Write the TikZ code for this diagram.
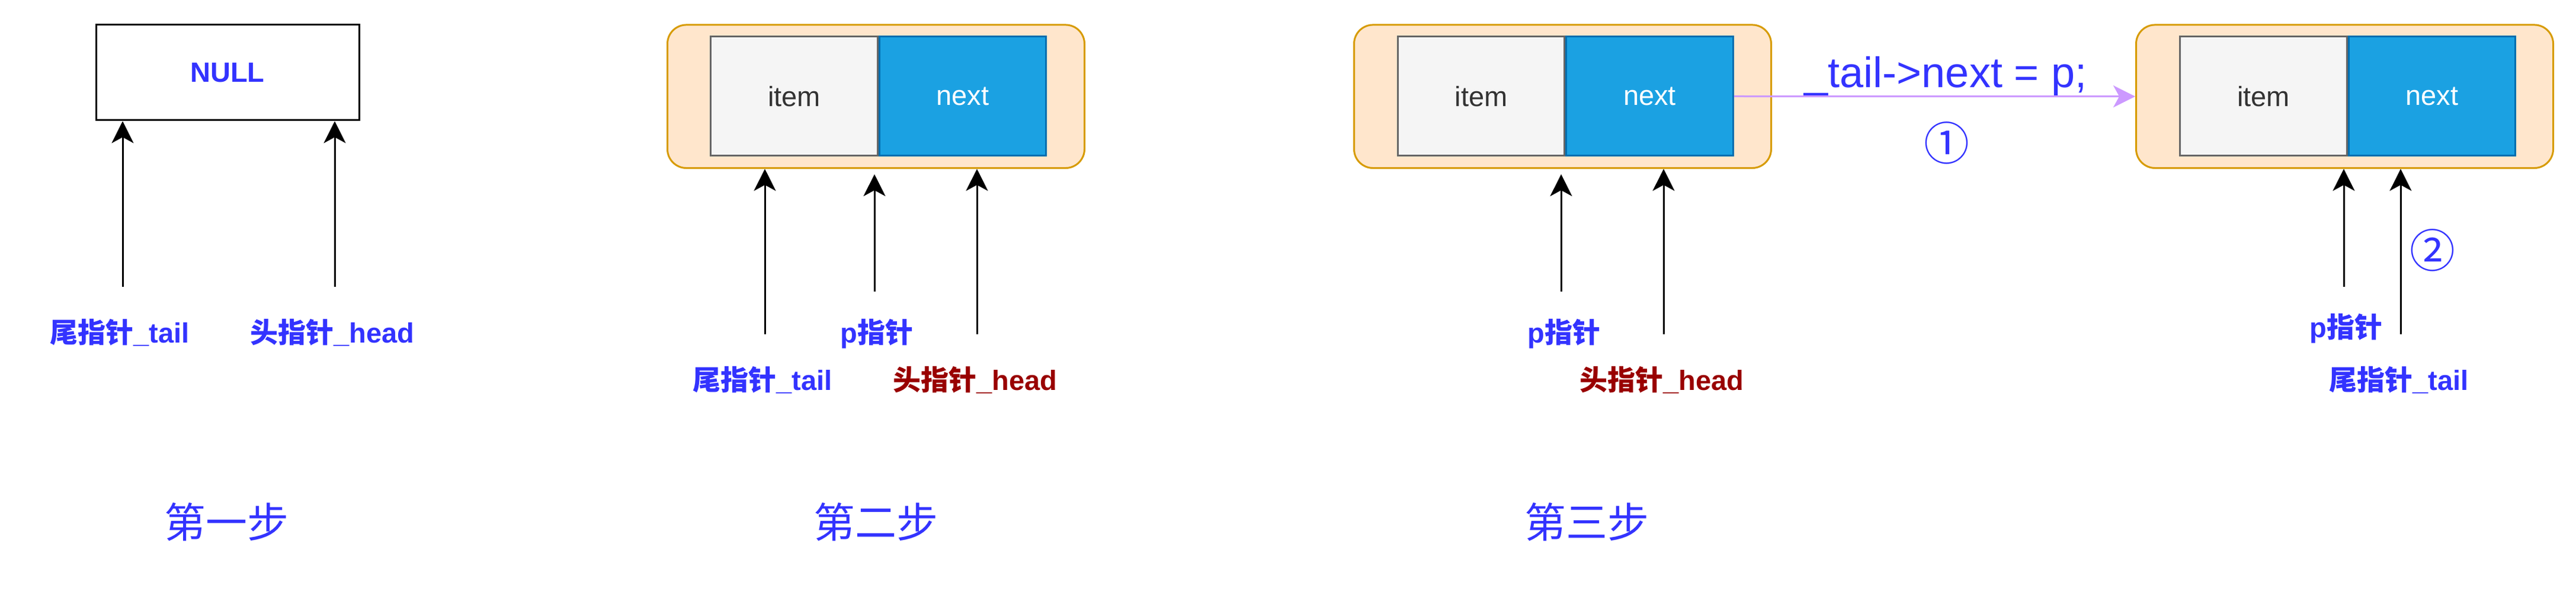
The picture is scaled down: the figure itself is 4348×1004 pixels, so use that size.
\documentclass[tikz,border=0pt]{standalone}
\usepackage{fontspec}
\setmainfont{Liberation Sans}
\newfontfamily\cjk{Noto Sans CJK SC}
\usetikzlibrary{arrows.meta,positioning}
\definecolor{ptrblue}{HTML}{3333FF}
\definecolor{headred}{HTML}{990000}
\definecolor{linkpurple}{HTML}{CC99FF}
\definecolor{wrapfill}{HTML}{FFE6CC}
\definecolor{wrapdraw}{HTML}{D79B00}
\definecolor{itemfill}{HTML}{F5F5F5}
\definecolor{itemdraw}{HTML}{666666}
\definecolor{itemtext}{HTML}{333333}
\definecolor{nextfill}{HTML}{1BA1E2}
\definecolor{nextdraw}{HTML}{006EAF}
\newcommand{\zh}[1]{{\cjk #1}}
\tikzset{
  wrapbox/.style={draw=wrapdraw, fill=wrapfill, line width=0.75pt, rounded corners=8pt,
    minimum width=176pt, minimum height=60.4pt, inner sep=0pt},
  itemcell/.style={draw=itemdraw, fill=itemfill, line width=0.75pt, inner sep=0pt,
    minimum width=70.4pt, minimum height=50.25pt, text=itemtext,
    font=\fontsize{11.75}{14}\selectfont},
  nextcell/.style={itemcell, draw=nextdraw, fill=nextfill, text=white},
  ptrlabel/.style={font=\bfseries\fontsize{11.75}{14}\selectfont, text=ptrblue, inner sep=0pt},
  headlabel/.style={ptrlabel, text=headred},
  steplabel/.style={font=\cjk\fontsize{17.5}{21}\selectfont, text=ptrblue, inner sep=0pt},
  code/.style={font=\fontsize{18}{21}\selectfont, text=ptrblue, inner sep=0pt},
  circled/.style={font=\cjk\fontsize{19.2}{22}\selectfont, text=ptrblue, inner sep=0pt},
  ptr/.style={-{Stealth[length=9.25pt,width=9.25pt,inset=2.5pt]}, line width=0.75pt},
  link/.style={ptr, draw=linkpurple, color=linkpurple}
}
\begin{document}
\begin{tikzpicture}[x=0.25pt, y=-0.25pt]
      \useasboundingbox (0,0) rectangle (4348,1004);
      % step one
      \node[draw, line width=0.75pt, minimum width=111pt, minimum height=40.25pt,
        font=\bfseries\fontsize{11.75}{14}\selectfont, text=ptrblue] (null) at (384,122.5) {NULL};
      \draw
        (202,561) node[ptrlabel] (tail1){\zh{尾指针}\_tail}
        (561,561) node[ptrlabel] (head1){\zh{头指针}\_head}
        (382,881) node[steplabel] (step1){第一步};
      \coordinate (t1) at (207,484);
      \coordinate (h1) at (565,484);
      % step two
      \node[wrapbox] (wrap2) at (1478.5,162.75) {};
      \node[itemcell] (item2) at (1340.5,162.5) {item};
      \node[nextcell, right=0pt of item2] (next2) {next};
      \draw
        (1480,563) node[ptrlabel] (p2){p\zh{指针}}
        (1287,641.5) node[ptrlabel] (tail2){\zh{尾指针}\_tail}
        (1646,641.5) node[headlabel] (head2){\zh{头指针}\_head}
        (1478,881) node[steplabel] (step2){第二步};
      \coordinate (t2) at (1291,564);
      \coordinate (q2) at (1476,492);
      \coordinate (h2) at (1649,564);
      % step three
      \node[wrapbox] (wrap3) at (2637.5,162.75) {};
      \node[itemcell] (item3) at (2500,162.5) {item};
      \node[nextcell, right=0pt of item3] (next3) {next};
      \draw
        (2640,563) node[ptrlabel] (p3){p\zh{指针}}
        (2805,641.5) node[headlabel] (head3){\zh{头指针}\_head}
        (2678,881) node[steplabel] (step3){第三步};
      \coordinate (q3) at (2635,492);
      \coordinate (h3) at (2808,564);
      % result
      \node[wrapbox] (wrap4) at (3957.5,162.75) {};
      \node[itemcell] (item4) at (3820.5,162.5) {item};
      \node[nextcell, right=0pt of item4] (next4) {next};
      \draw
        (3284,148) node[code, anchor=base] (stmt){\_tail->next = p;}
        (3286,241) node[circled] (one){①}
        (4106,422) node[circled] (two){②}
        (3960,554) node[ptrlabel] (p4){p\zh{指针}}
        (4049,641.5) node[ptrlabel] (tail4){\zh{尾指针}\_tail};
      \coordinate (q4) at (3956,484);
      \coordinate (t4) at (4052,564);
      \begin{scope}[ptr]
        \draw (t1) to (t1 |- null.south);
        \draw (h1) to (h1 |- null.south);
        \draw (t2) to (t2 |- wrap2.south);
        \draw[shorten >=2.25pt] (q2) to (q2 |- wrap2.south);
        \draw (h2) to (h2 |- wrap2.south);
        \draw[shorten >=2.25pt] (q3) to (q3 |- wrap3.south);
        \draw (h3) to (h3 |- wrap3.south);
        \draw (q4) to (q4 |- wrap4.south);
        \draw (t4) to (t4 |- wrap4.south);
      \end{scope}
      \draw[link] (next3.east) -- (wrap4.west);
    \end{tikzpicture}
\end{document}
